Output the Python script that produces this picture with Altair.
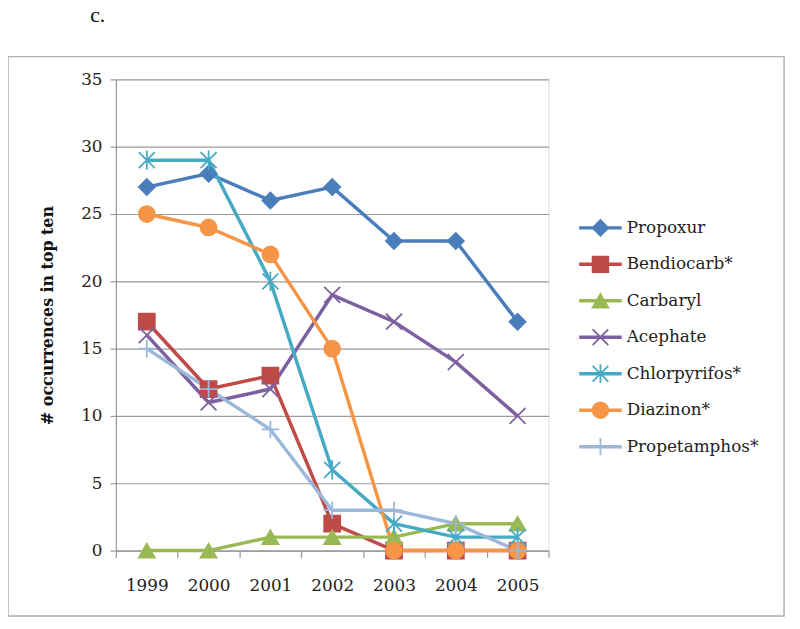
import altair as alt
import pandas as pd

years = [1999, 2000, 2001, 2002, 2003, 2004, 2005]
series_names = ["Propoxur", "Bendiocarb*", "Carbaryl", "Acephate",
                "Chlorpyrifos*", "Diazinon*", "Propetamphos*"]
propoxur = [27, 28, 26, 27, 23, 23, 17]
bendiocarb = [17, 12, 13, 2, 0, 0, 0]
carbaryl = [0, 0, 1, 1, 1, 2, 2]
acephate = [16, 11, 12, 19, 17, 14, 10]
chlorpyrifos = [29, 29, 20, 6, 2, 1, 1]
diazinon = [25, 24, 22, 15, 0, 0, 0]
propetamphos = [15, 12, 9, 3, 3, 2, 0]

colors = ["#4A7EBB", "#BE4B48", "#98B954", "#7D60A0", "#46AAC5", "#F69546", "#9BB7DA"]
shapes = ["diamond", "square", "triangle-up",
          "M-1,-1L1,1M-1,1L1,-1",
          "M-1,-1L1,1M-1,1L1,-1M0,-1.2L0,1.2",
          "circle",
          "M-1.1,0L1.1,0M0,-1.1L0,1.1"]

all_values = [propoxur, bendiocarb, carbaryl, acephate, chlorpyrifos, diazinon, propetamphos]
rows = []
for name, vals in zip(series_names, all_values):
    for y, v in zip(years, vals):
        rows.append({"name": name, "year": y, "value": v})
df = pd.DataFrame(rows)
legend_df = pd.DataFrame({"name": series_names})

FONT = "DejaVu Serif"
GRAY = "#9a9a9a"

x_scale = alt.Scale(domain=[1998.5, 2005.5], nice=False, zero=False)
y_scale = alt.Scale(domain=[0, 35], nice=False)
color_scale = alt.Scale(domain=series_names, range=colors)
shape_scale = alt.Scale(domain=series_names, range=shapes)

y_axis = alt.Axis(values=[0, 5, 10, 15, 20, 25, 30, 35], title="# occurrences in top ten",
                  grid=True, gridColor=GRAY, gridWidth=1.2,
                  domainColor=GRAY, domainWidth=1.2,
                  tickColor=GRAY, tickSize=6, tickWidth=1.2,
                  labelFont=FONT, labelFontSize=17, labelColor="#222",
                  labelPadding=8,
                  titleFont=FONT, titleFontSize=16, titleFontWeight="bold",
                  titleColor="#111", titleAngle=270, titleX=-69, titleY=238,
                  titleAlign="center", titleBaseline="middle")

lines = alt.Chart(df).mark_line(strokeWidth=3.5).encode(
    x=alt.X("year:Q", scale=x_scale,
            axis=alt.Axis(values=years, format="d", title=None, orient="bottom",
                          ticks=False, tickSize=0, grid=False,
                          domainColor=GRAY, domainWidth=1.2,
                          labelFont=FONT, labelFontSize=17, labelColor="#222",
                          labelPadding=27)),
    y=alt.Y("value:Q", scale=y_scale, axis=y_axis),
    color=alt.Color("name:N", scale=color_scale, legend=None),
    detail="name:N",
)

points = alt.Chart(df).mark_point(filled=True, size=260, strokeWidth=1.8, opacity=1).encode(
    x=alt.X("year:Q", scale=x_scale,
            axis=alt.Axis(values=[1998.5 + i for i in range(8)], labels=False, title=None,
                          orient="bottom", ticks=True, tickSize=7, tickColor=GRAY,
                          tickWidth=1.2, domain=False, grid=False)),
    y=alt.Y("value:Q", scale=y_scale, axis=None),
    color=alt.Color("name:N", scale=color_scale, legend=None),
    stroke=alt.Stroke("name:N", scale=color_scale, legend=None),
    shape=alt.Shape("name:N", scale=shape_scale, legend=None),
)

# legend (drawn from the series list through a point scale)
leg_y = alt.Y("name:N", sort=series_names, axis=None,
              scale=alt.Scale(type="point", range=[150, 371], padding=0))

leg_lines = alt.Chart(legend_df).mark_rule(strokeWidth=3.5).encode(
    x=alt.value(468), x2=alt.value(511), y=leg_y,
    color=alt.Color("name:N", scale=color_scale, legend=None),
)
leg_points = alt.Chart(legend_df).mark_point(filled=True, size=250, strokeWidth=1.8, opacity=1).encode(
    x=alt.value(489.5), y=leg_y,
    color=alt.Color("name:N", scale=color_scale, legend=None),
    stroke=alt.Stroke("name:N", scale=color_scale, legend=None),
    shape=alt.Shape("name:N", scale=shape_scale, legend=None),
)
leg_text = alt.Chart(legend_df).mark_text(font=FONT, fontSize=17, align="left",
                                          baseline="middle", color="#222").encode(
    x=alt.value(516), y=leg_y, text="name:N",
)

label_df = pd.DataFrame({"t": ["c."]})
label = alt.Chart(label_df).mark_text(font="Liberation Serif", fontSize=22, align="left",
                                      baseline="alphabetic", color="#111").encode(
    text="t:N", x=alt.value(-26), y=alt.value(-58))

box = alt.Chart(label_df).mark_rect(fill=None, stroke="#b0b0b0", strokeWidth=1.5).encode(
    x=alt.value(-109), x2=alt.value(675), y=alt.value(-23), y2=alt.value(542))

chart = alt.layer(box, lines, points, leg_lines, leg_points, leg_text, label).resolve_scale(
    y="independent").resolve_axis(x="independent").properties(
    width=437, height=476,
    autosize=alt.AutoSizeParams(type="none"),
    padding={"left": 109, "top": 69, "right": 246, "bottom": 68},
).configure_view(stroke=None).configure(background="white")

chart.save("out.html", embed_options={"renderer": "svg", "actions": False})
